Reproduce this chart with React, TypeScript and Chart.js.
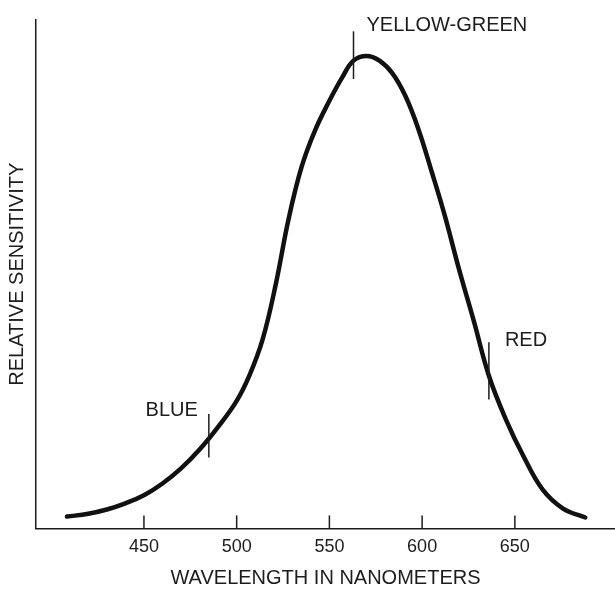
import React, { useEffect, useRef } from "react";
import { Chart, registerables } from "chart.js";

Chart.register(...registerables);

// Wavelength (nm) and relative sensitivity
const wavelengths = [408.5, 420, 430, 440, 450, 460, 470, 480, 490, 500, 507, 514, 521, 528, 535, 542, 550, 557, 563, 570, 577, 584, 591, 598, 605, 612, 620, 628, 636, 645, 655, 665, 676, 688];
const sensitivity = [0.025, 0.031, 0.04, 0.053, 0.07, 0.095, 0.127, 0.167, 0.215, 0.27, 0.325, 0.4, 0.515, 0.655, 0.765, 0.84, 0.905, 0.955, 0.99, 1.0, 0.99, 0.963, 0.915, 0.845, 0.757, 0.665, 0.547, 0.437, 0.323, 0.232, 0.15, 0.082, 0.042, 0.023];

const xTicks = [450, 500, 550, 600, 650];

// Colour markers on the curve
const markerNames = ["BLUE", "YELLOW-GREEN", "RED"];
const markerNm = [485, 563, 636];
const markerTop = [0.242, 1.052, 0.394];
const markerBottom = [0.15, 0.951, 0.273];

const FONT = "'Liberation Sans', Arial, Helvetica, sans-serif";
const INK = "#1c1c1c";

const markerPlugin = {
  id: "markers",
  afterDatasetsDraw(chart: any) {
    const { ctx, chartArea, scales } = chart;
    const xs = scales.x;
    const ys = scales.y;
    ctx.save();
    // upward tick marks on the x axis
    ctx.strokeStyle = INK;
    ctx.lineWidth = 1.5;
    xTicks.forEach((v) => {
      const px = xs.getPixelForValue(v);
      ctx.beginPath();
      ctx.moveTo(px, chartArea.bottom);
      ctx.lineTo(px, chartArea.bottom - 13);
      ctx.stroke();
    });
    // colour markers and labels
    ctx.font = `20px ${FONT}`;
    ctx.fillStyle = INK;
    ctx.textBaseline = "alphabetic";
    markerNames.forEach((name, i) => {
      const px = xs.getPixelForValue(markerNm[i]);
      const top = ys.getPixelForValue(markerTop[i]);
      const bot = ys.getPixelForValue(markerBottom[i]);
      ctx.lineWidth = 1.5;
      ctx.beginPath();
      ctx.moveTo(px, top);
      ctx.lineTo(px, bot);
      ctx.stroke();
      if (i === 0) {
        ctx.textAlign = "right";
        ctx.fillText(name, px - 11, top + 2);
      } else if (i === 1) {
        ctx.textAlign = "left";
        ctx.fillText(name, px + 13, top);
      } else {
        ctx.textAlign = "left";
        ctx.fillText(name, px + 16, top + 4);
      }
    });
    ctx.restore();
  },
};

export default function App() {
  const ref = useRef<HTMLCanvasElement | null>(null);
  useEffect(() => {
    if (!ref.current) return;
    const chart = new Chart(ref.current, {
      type: "line",
      data: {
        datasets: [
          {
            data: wavelengths.map((w, i) => ({ x: w, y: sensitivity[i] })),
            borderColor: "#111",
            borderWidth: 4.5,
            borderCapStyle: "round",
            borderJoinStyle: "round",
            pointRadius: 0,
            fill: false,
            tension: 0.4,
          },
        ],
      },
      options: {
        animation: false,
        responsive: false,
        maintainAspectRatio: false,
        layout: { padding: { top: 20, right: 0, bottom: 0, left: 0 } },
        plugins: { legend: { display: false }, tooltip: { enabled: false } },
        scales: {
          x: {
            type: "linear",
            min: 391.8,
            max: 704,
            afterBuildTicks: (s: any) => {
              s.ticks = xTicks.map((v) => ({ value: v }));
            },
            grid: { display: false, drawTicks: false },
            border: { display: true, color: INK, width: 1.5 },
            ticks: {
              color: INK,
              font: { family: FONT, size: 18 },
              padding: 8,
              maxRotation: 0,
              autoSkip: false,
            },
            title: {
              display: true,
              text: "WAVELENGTH IN NANOMETERS",
              color: INK,
              font: { family: FONT, size: 20 },
              padding: { top: 0, bottom: 0 },
            },
          },
          y: {
            type: "linear",
            min: 0,
            max: 1.076,
            grid: { display: false, drawTicks: false },
            border: { display: true, color: INK, width: 1.5 },
            ticks: { display: false },
            title: {
              display: true,
              text: "RELATIVE SENSITIVITY",
              color: INK,
              font: { family: FONT, size: 20 },
              padding: { top: 5, bottom: 7 },
            },
          },
        },
      },
      plugins: [markerPlugin],
    } as any);
    return () => chart.destroy();
  }, []);
  return (
    <div style={{ position: "fixed", left: 0, top: 0, width: 615, height: 590, background: "#fff" }}>
      <canvas ref={ref} width={615} height={590} style={{ width: 615, height: 590 }} />
    </div>
  );
}
